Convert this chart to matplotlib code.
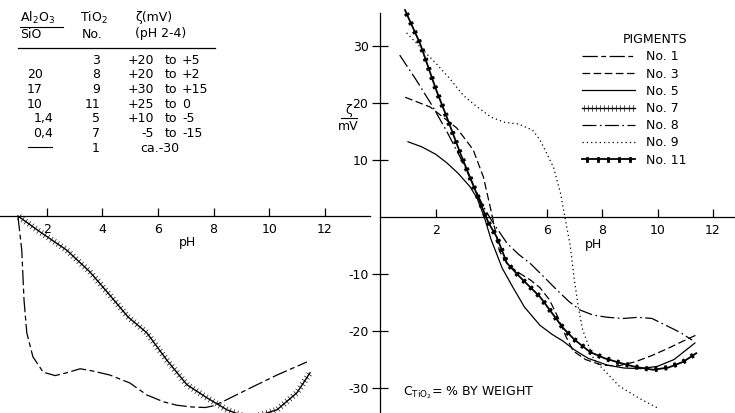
import numpy as np
import matplotlib
matplotlib.use("Agg")
import matplotlib.pyplot as plt
import matplotlib.patheffects as pe
from matplotlib.lines import Line2D

plt.rcParams['font.family'] = ['DejaVu Sans']
plt.rcParams['font.size'] = 9
plt.rcParams['axes.unicode_minus'] = False
plt.rcParams['lines.scale_dashes'] = False

# zeta potential (mV) against pH for the TiO2 pigments
# left panel: pigments 1 and 7
ph_1 = [0.96, 1.1, 1.18, 1.28, 1.5, 1.87, 2.3, 2.72, 3.2, 3.66, 4.27, 4.99, 5.6, 6.2,
        6.68, 7.2, 7.7, 8.0, 8.4, 9.31, 10.28, 11.36]
zeta_1 = [0, -6, -14.7, -20.5, -24.7, -27.4, -28, -27.5, -26.8, -27.2, -27.9, -29.3, -31.4,
          -32.6, -33.2, -33.5, -33.6, -33.3, -32.4, -30.2, -27.9, -25.6]

ph_7 = [0.96, 1.76, 2.72, 3.55, 4.27, 4.92, 5.6, 6.32, 7.04, 7.76, 8.48, 9.3, 10.28, 11.0, 11.47]
zeta_7 = [0, -2.8, -6, -9.8, -13.9, -17.7, -20.5, -25.3, -29.6, -31.9, -34, -35.5, -34, -31, -27.5]

# right panel: pigments 3, 5, 8, 9, 11
ph_3 = [0.9, 1.8, 2.76, 3.35, 3.72, 4.0, 4.3, 4.6, 5.0, 5.4, 5.76, 6.1, 6.4, 6.7, 6.96, 7.4,
        8.0, 8.6, 9.2, 9.8, 10.4, 11.0, 11.4]
zeta_3 = [21, 19.3, 15.6, 11.8, 7, 1, -6, -8.4, -9.8, -11, -12.4, -14.5, -17.5, -21, -23.5,
          -25, -26, -26.1, -25.4, -24.3, -23, -21.6, -20.7]

ph_5 = [1.0, 1.5, 2.0, 2.4, 2.8, 3.24, 3.5, 3.75, 4.0, 4.4, 4.78, 5.2, 5.76, 6.2, 6.6, 7.0,
        7.5, 8.2, 8.8, 9.4, 10.0, 10.6, 11.35]
zeta_5 = [13.2, 12.3, 11, 9.5, 7.7, 5.3, 3.2, 0, -4, -9, -12.3, -15.8, -19, -20.6, -21.8,
          -23.3, -24.8, -26, -26.5, -26.6, -26.2, -25, -22.1]

ph_8 = [0.7, 1.3, 1.9, 2.4, 2.88, 3.3, 3.7, 4.0, 4.57, 5.0, 5.4, 5.9, 6.37, 6.8, 7.2, 7.67,
        8.2, 8.77, 9.3, 9.8, 10.3, 10.8, 11.25]
zeta_8 = [28.4, 24, 19.3, 15, 10.5, 6.2, 2, -0.5, -4.6, -6.6, -8.1, -10.5, -12.8, -14.8,
          -16.3, -17.2, -17.6, -17.8, -17.6, -17.8, -19, -20.2, -21.6]

ph_9 = [0.95, 1.5, 2.0, 2.5, 3.0, 3.5, 4.0, 4.5, 5.0, 5.5, 5.75, 6.0, 6.25, 6.5, 6.66, 6.85,
        7.0, 7.15, 7.3, 7.7, 8.2, 8.6, 9.3, 10.0]
zeta_9 = [32.3, 29.5, 27, 24.3, 21.3, 19.3, 17.5, 16.6, 16.3, 15.2, 13.6, 11.2, 8.7, 4.2, 0,
          -5, -11, -16, -19.8, -25, -27.5, -29.6, -31.7, -33.5]

ph_11 = [0.89, 1.43, 2.0, 2.4, 2.9, 3.4, 3.9, 4.2, 4.57, 5.03, 5.76, 6.37, 6.6, 7.0, 7.57,
         8.1, 8.65, 9.2, 9.85, 10.4, 10.93, 11.4]
zeta_11 = [36.3, 30.5, 22.5, 17.5, 11, 5, -1, -3.5, -8.1, -10.5, -14, -18, -19.5, -21.5,
           -23.7, -24.8, -25.6, -26.3, -26.8, -26.4, -25.4, -23.9]

# table of Al2O3/SiO ratio, pigment number and zeta range at pH 2-4
ratio = ["", "20", "17", "10", "1,4", "0,4", "—"]
pigment_no = ["3", "8", "9", "11", "5", "7", "1"]
zeta_range = ["+20 to +5", "+20 to +2", "+30 to +15", "+25 to  0", "+10 to -5",
              "-5 to -15", "ca.-30"]

left_ticks = [2, 4, 6, 8, 10, 12]
right_ticks = [2, 6, 8, 10, 12]
zeta_ticks = [-30, -20, -10, 10, 20, 30]

W, H = 735, 413


def fx(px):
    return px / W


def fy(py):
    return 1 - py / H


fig = plt.figure(figsize=(7.35, 4.13), dpi=100)

lw = 0.9
style_1 = dict(color='k', lw=lw, linestyle=(0, (11, 2.5, 3.5, 2.5)))
style_3 = dict(color='k', lw=lw, linestyle=(0, (5.5, 2.5)))
style_5 = dict(color='k', lw=lw, linestyle='-')
# crossed line: short ticks on both sides of the curve
style_7 = dict(color='k', lw=1.0, linestyle='-',
               path_effects=[pe.Normal(),
                             pe.TickedStroke(spacing=2.8, angle=90, length=0.75, linewidth=0.45),
                             pe.TickedStroke(spacing=2.8, angle=-90, length=0.75, linewidth=0.45)])
style_8 = dict(color='k', lw=lw, linestyle=(0, (10, 2.5, 1.2, 2.5)))
style_9 = dict(color='k', lw=lw, linestyle=(0, (0.9, 2.2)))
# heavy line with small beads spaced evenly along it
style_11 = dict(color='k', lw=1.3, linestyle='-',
                path_effects=[pe.Normal(),
                              pe.TickedStroke(spacing=7, angle=90, length=0.12, linewidth=2.0),
                              pe.TickedStroke(spacing=7, angle=-90, length=0.12, linewidth=2.0)])

# ---- left panel ----
ax1 = fig.add_axes([0, 0, fx(370), 1])
ax1.set_xlim((0 + 8.8) / 27.8, (370 + 8.8) / 27.8)
ax1.set_ylim((216 - 413) / 5.7, 216 / 5.7)
for s in ['left', 'right', 'top']:
    ax1.spines[s].set_visible(False)
ax1.spines['bottom'].set_position(('data', 0))
ax1.spines['bottom'].set_linewidth(0.9)
ax1.set_yticks([])
ax1.set_xticks(left_ticks)
ax1.tick_params(axis='x', direction='in', length=6, width=0.9, pad=5, labelsize=9)
ax1.text(7.07, -4.7, "pH", ha='center', va='center', fontsize=9)
ax1.plot(ph_1, zeta_1, **style_1)
ax1.plot(ph_7, zeta_7, **style_7)

# ---- right panel ----
ax2 = fig.add_axes([fx(380.3), 0, 1 - fx(380.3), fy(5)])
ax2.set_xlim(0, (735 - 380.3) / 27.72)
ax2.set_ylim((217 - 413) / 5.7, (217 - 5) / 5.7)
for s in ['right', 'top']:
    ax2.spines[s].set_visible(False)
ax2.spines['bottom'].set_position(('data', 0))
ax2.spines['left'].set_bounds((217 - 413) / 5.7, (217 - 13) / 5.7)
for s in ['left', 'bottom']:
    ax2.spines[s].set_linewidth(0.9)
ax2.set_xticks(right_ticks)
ax2.set_yticks(zeta_ticks)
ax2.set_yticklabels([str(t) for t in zeta_ticks])
ax2.tick_params(axis='x', direction='in', length=6, width=0.9, pad=5, labelsize=9)
ax2.tick_params(axis='y', direction='inout', length=11, width=0.9, pad=3, labelsize=9)
ax2.text(7.7, -4.9, "pH", ha='center', va='center', fontsize=9)

h3, = ax2.plot(ph_3, zeta_3, **style_3)
h5, = ax2.plot(ph_5, zeta_5, **style_5)
h8, = ax2.plot(ph_8, zeta_8, **style_8)
h9, = ax2.plot(ph_9, zeta_9, **style_9)
h11, = ax2.plot(ph_11, zeta_11, **style_11)
for h in [h3, h5, h8, h9, h11]:
    h.set_clip_on(False)

ax2.text(0.82, -30.9, r"C$_{\mathrm{TiO_2}}$= % BY WEIGHT", ha='left', va='center', fontsize=9)

# legend with one entry per pigment
handles = [Line2D([], [], **style_1), Line2D([], [], **style_3), Line2D([], [], **style_5),
           Line2D([], [], **style_7), Line2D([], [], **style_8), Line2D([], [], **style_9),
           Line2D([], [], **style_11)]
labels = ["No. 1", "No. 3", "No. 5", "No. 7", "No. 8", "No. 9", "No. 11"]
leg = ax2.legend(handles, labels, title="PIGMENTS", loc='upper left',
                 bbox_to_anchor=(fx(582), fy(33)), bbox_transform=fig.transFigure,
                 frameon=False, handlelength=4.2, handletextpad=0.95, labelspacing=0.34,
                 borderpad=0, borderaxespad=0, fontsize=9,
                 title_fontsize=9, alignment='right')

# ---- zeta axis label ----
fig.text(fx(349), fy(111), "ζ", ha='center', va='center', fontsize=9)
fig.add_artist(Line2D([fx(341), fx(357)], [fy(118), fy(118)], color='k', lw=0.8))
fig.text(fx(348), fy(127), "mV", ha='center', va='center', fontsize=9)

# ---- table ----
fig.text(fx(20), fy(18), r"Al$_2$O$_3$", ha='left', va='center', fontsize=9)
fig.add_artist(Line2D([fx(20), fx(63)], [fy(27), fy(27)], color='k', lw=0.8))
fig.text(fx(20), fy(34), "SiO", ha='left', va='center', fontsize=9)
fig.text(fx(80), fy(18), r"TiO$_2$", ha='left', va='center', fontsize=9)
fig.text(fx(82), fy(34), "No.", ha='left', va='center', fontsize=9)
fig.text(fx(135), fy(18), "ζ(mV)", ha='left', va='center', fontsize=9)
fig.text(fx(135), fy(34), "(pH 2-4)", ha='left', va='center', fontsize=9)
fig.add_artist(Line2D([fx(18), fx(215)], [fy(48), fy(48)], color='k', lw=0.9))

row_y = [60 + 14.7 * i for i in range(len(pigment_no))]
for r, no, z, y in zip(ratio, pigment_no, zeta_range, row_y):
    if r == "—":
        fig.add_artist(Line2D([fx(28), fx(52)], [fy(y - 1), fy(y - 1)], color='k', lw=0.8))
    elif "," in r:
        fig.text(fx(53), fy(y), r, ha='right', va='center', fontsize=9)
    elif r:
        fig.text(fx(43), fy(y), r, ha='right', va='center', fontsize=9)
    fig.text(fx(100), fy(y), no, ha='right', va='center', fontsize=9)
    if " to " in z:
        lo, hi = z.split(" to ")
        fig.text(fx(154), fy(y), lo, ha='right', va='center', fontsize=9)
        fig.text(fx(170.5), fy(y), "to", ha='center', va='center', fontsize=9)
        fig.text(fx(182), fy(y), hi.strip(), ha='left', va='center', fontsize=9)
    else:
        fig.text(fx(140), fy(y), z, ha='left', va='center', fontsize=9)

fig.savefig("out.png", dpi=100)
